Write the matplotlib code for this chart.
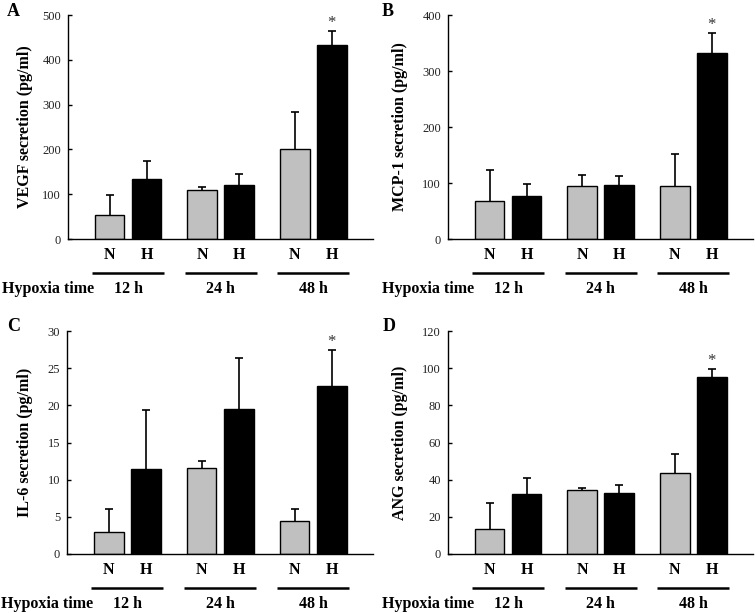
import numpy as np
import matplotlib
matplotlib.use('Agg')
import matplotlib.pyplot as plt

plt.rcParams['font.family'] = ['Liberation Serif', 'DejaVu Serif']

# --- Data ---
groups = ['12 h', '24 h', '48 h']
conditions = ['N', 'H']

vegf_n = [54, 109, 200]
vegf_n_err = [45, 7, 83]
vegf_h = [134, 120, 434]
vegf_h_err = [39, 26, 30]

mcp1_n = [67, 95, 94]
mcp1_n_err = [56, 20, 58]
mcp1_h = [77, 96, 333]
mcp1_h_err = [22, 16, 35]

il6_n = [3.0, 11.6, 4.5]
il6_n_err = [3.0, 0.9, 1.5]
il6_h = [11.5, 19.5, 22.6]
il6_h_err = [7.9, 6.9, 4.9]

ang_n = [13.5, 34.4, 43.6]
ang_n_err = [13.7, 1.1, 10.4]
ang_h = [32.3, 32.8, 95.1]
ang_h_err = [8.4, 4.1, 4.5]

panels = [
    ('A', 'VEGF secretion (pg/ml)', vegf_n, vegf_n_err, vegf_h, vegf_h_err, 500, 100, -0.115),
    ('B', 'MCP-1 secretion (pg/ml)', mcp1_n, mcp1_n_err, mcp1_h, mcp1_h_err, 400, 100, -0.13),
    ('C', 'IL-6 secretion (pg/ml)', il6_n, il6_n_err, il6_h, il6_h_err, 30, 5, -0.11),
    ('D', 'ANG secretion (pg/ml)', ang_n, ang_n_err, ang_h, ang_h_err, 120, 20, -0.13),
]
significant = [False, False, True]  # star above the 48 h hypoxia bar

# axes positions in figure pixels: left, top, right, bottom
W, H = 755, 613
boxes = [(68, 15, 373, 239), (448, 15, 753, 239),
         (67, 331, 373, 554), (448, 331, 753, 554)]
letter_pos = [(7, 3), (382, 3), (7, 318), (383, 318)]

fig = plt.figure(figsize=(W / 100, H / 100), dpi=100)

group_x = np.array([0, 2.5, 5.0])
bar_w = 0.8

for (letter, ylabel, n, n_err, h, h_err, ymax, ystep, lab_x), box, lp in zip(panels, boxes, letter_pos):
    l, t, r, b = box
    ax = fig.add_axes([l / W, 1 - b / H, (r - l) / W, (b - t) / H])

    xn = group_x
    xh = group_x + 1
    # symmetric error bars drawn behind the bars, so only the upper half shows
    ax.errorbar(xn, n, yerr=n_err, fmt='none', ecolor='black',
                elinewidth=1.2, capsize=2.8, capthick=1.2, zorder=1)
    ax.errorbar(xh, h, yerr=h_err, fmt='none', ecolor='black',
                elinewidth=1.2, capsize=2.8, capthick=1.2, zorder=1)
    ax.bar(xn, n, width=bar_w, color='#c0c0c0', edgecolor='black', linewidth=1.0, zorder=2)
    ax.bar(xh, h, width=bar_w, color='black', edgecolor='black', linewidth=1.0, zorder=2)

    for i, sig in enumerate(significant):
        if sig:
            ax.annotate('*', xy=(xh[i], h[i] + h_err[i]), xytext=(0, 0),
                        textcoords='offset points', ha='center', va='bottom',
                        fontsize=12, color='#333333')

    ax.set_xlim(-1.12, 7.11)
    ax.set_ylim(0, ymax)
    ax.set_yticks(np.arange(0, ymax + ystep / 2, ystep))
    ax.set_xticks([])
    ax.tick_params(axis='y', direction='in', length=3, width=1, labelsize=9, pad=5,
                   labelcolor='#222222')
    for s in ['top', 'right']:
        ax.spines[s].set_visible(False)
    ax.spines['left'].set_linewidth(1.0)
    ax.spines['bottom'].set_linewidth(1.0)

    ax.set_ylabel(ylabel, fontsize=11.5, fontweight='bold')
    ax.yaxis.set_label_coords(lab_x, 0.5)

    trans = ax.get_xaxis_transform()
    ph = b - t
    for i, g in enumerate(groups):
        ax.text(xn[i], -16 / ph, conditions[0], transform=trans, ha='center', va='center',
                fontsize=11.5, fontweight='bold')
        ax.text(xh[i], -16 / ph, conditions[1], transform=trans, ha='center', va='center',
                fontsize=11.5, fontweight='bold')
        ax.plot([xn[i] - 0.47, xh[i] + 0.47], [-34 / ph, -34 / ph], transform=trans,
                color='black', linewidth=1.8, clip_on=False, solid_capstyle='butt')
        ax.text(group_x[i] + 0.5, -50 / ph, g, transform=trans, ha='center', va='center',
                fontsize=11.5, fontweight='bold')
    ax.text(-0.215, -50 / ph, 'Hypoxia time', transform=ax.transAxes, ha='left', va='center',
            fontsize=11.5, fontweight='bold')

    fig.text(lp[0] / W, 1 - lp[1] / H, letter, ha='left', va='top',
             fontsize=13, fontweight='bold')

fig.savefig('out.png', dpi=100)
